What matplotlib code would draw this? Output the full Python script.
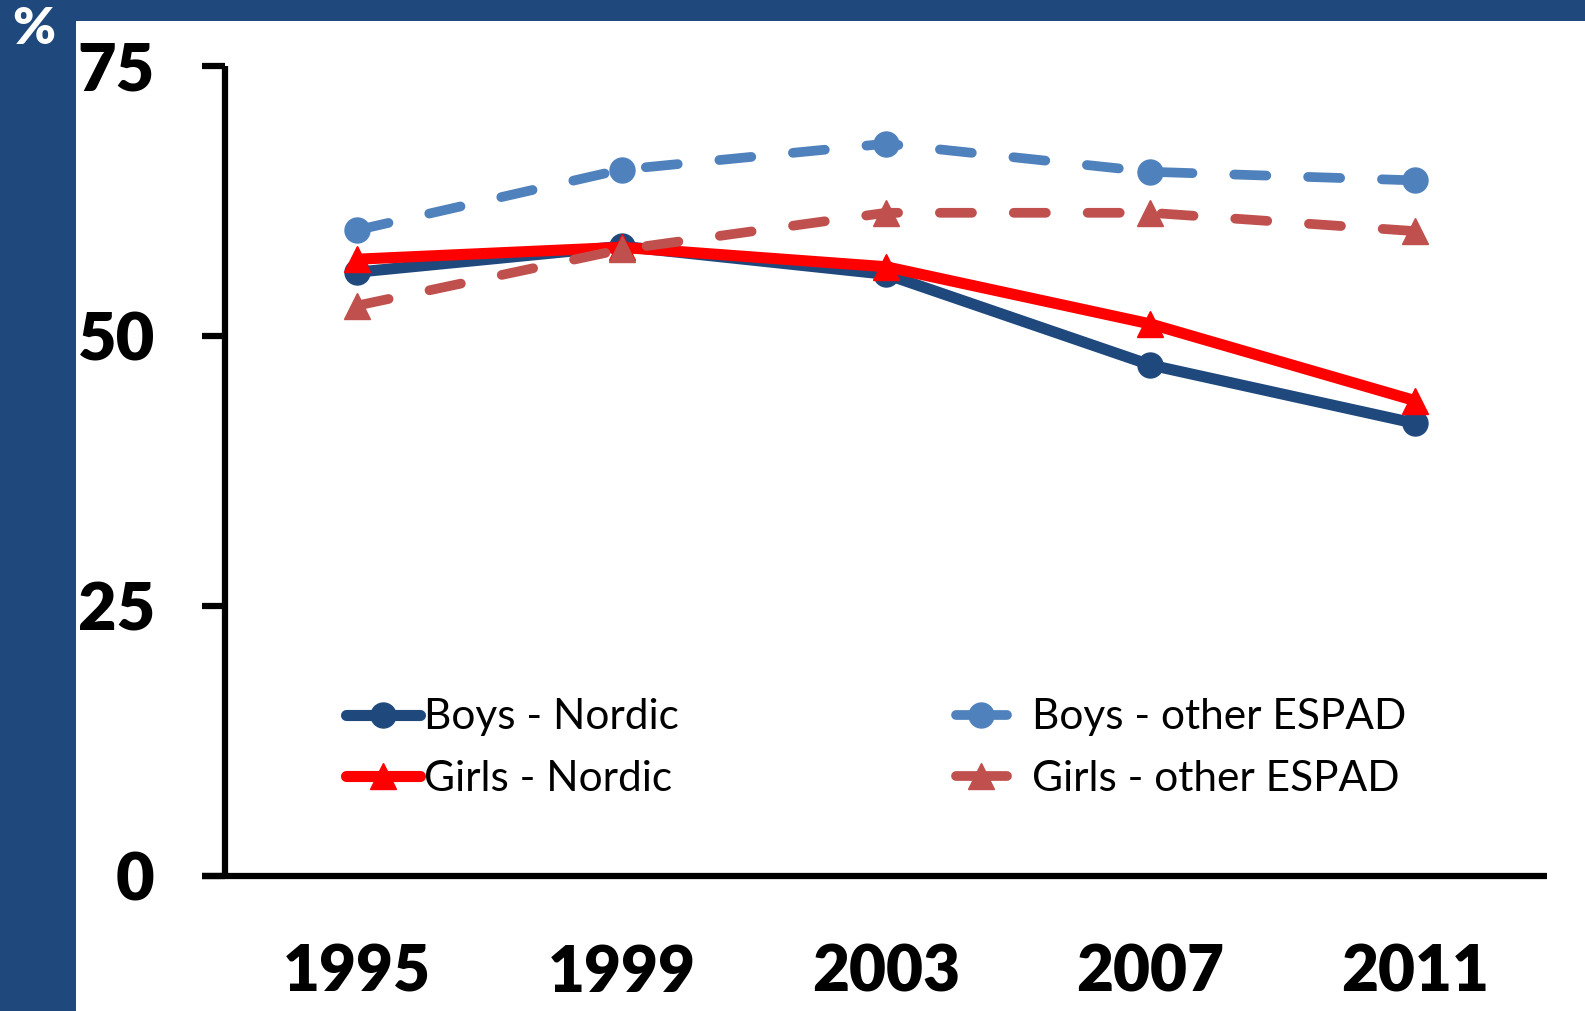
import numpy as np
import matplotlib.pyplot as plt
from matplotlib.lines import Line2D
from matplotlib.patches import Rectangle
from matplotlib.legend_handler import HandlerLine2D

# data
years = [1995, 1999, 2003, 2007, 2011]
boys_nordic = [55.9, 58.3, 55.7, 47.3, 41.9]
girls_nordic = [57.1, 58.2, 56.4, 51.1, 44.0]
boys_other = [59.8, 65.4, 67.8, 65.2, 64.4]
girls_other = [52.8, 58.0, 61.4, 61.4, 59.7]
yticks = [0, 25, 50, 75]

frame_blue = '#1F497D'
c_boys_n = '#1F497D'
c_girls_n = '#FF0000'
c_boys_o = '#4F81BD'
c_girls_o = '#C0504D'

plt.rcParams['font.family'] = ['Lato', 'DejaVu Sans']

W, H = 1585, 1011
fig = plt.figure(figsize=(W / 100, H / 100), dpi=100, facecolor=frame_blue)
# white panel inside the blue frame
fig.patches.append(Rectangle((76 / W, 0), 1, (H - 21) / H, transform=fig.transFigure,
                             facecolor='white', edgecolor='none', zorder=-5))
fig.text(34 / W, 1 - 29 / H, '%', color='white', fontsize=37, fontweight='heavy',
         ha='center', va='center')

ax = fig.add_axes([225 / W, 135.5 / H, (1547 - 225) / W, (875.5 - 66) / H])
ax.set_facecolor('none')

ms = 18
ax.plot(years, boys_nordic, color=c_boys_n, lw=8, marker='o', ms=ms,
        solid_joinstyle='round', solid_capstyle='round', zorder=3)
ax.plot(years, girls_nordic, color=c_girls_n, lw=8, marker='^', ms=ms + 1,
        solid_joinstyle='round', solid_capstyle='round', zorder=4)
ax.plot(years, boys_other, color=c_boys_o, lw=7, marker='o', ms=ms,
        dashes=(3.3, 4.3), dash_capstyle='round', zorder=3)
ax.plot(years, girls_other, color=c_girls_o, lw=7, marker='^', ms=ms + 1,
        dashes=(3.3, 4.3), dash_capstyle='round', zorder=5)

ax.set_xlim(1993, 2013)
ax.set_ylim(0, 75)
ax.set_xticks(years)
ax.set_xticklabels([str(y) for y in years])
ax.set_yticks(yticks)

for s in ['top', 'right']:
    ax.spines[s].set_visible(False)
for s in ['left', 'bottom']:
    ax.spines[s].set_linewidth(4.5)
    ax.spines[s].set_capstyle('butt')
# horizontal axis runs a bit past the vertical one
ax.plot([-23 / 1322, 0], [0, 0], transform=ax.transAxes, color='black', lw=4.5,
        solid_capstyle='butt', clip_on=False)

ax.tick_params(axis='y', length=16.5, width=4.5, pad=34, labelsize=48, direction='out')
ax.tick_params(axis='x', length=0, pad=49, labelsize=46)
for lab in ax.get_xticklabels() + ax.get_yticklabels():
    lab.set_fontweight('heavy')


class EndMarkerHandler(HandlerLine2D):
    def get_xdata(self, legend, xdescent, ydescent, width, height, fontsize):
        xdata, _ = super().get_xdata(legend, xdescent, ydescent, width, height, fontsize)
        return xdata, [xdata[-1] - 9]


h_nordic = [Line2D([], [], color=c_boys_n, lw=8, marker='o', ms=ms, solid_capstyle='round'),
            Line2D([], [], color=c_girls_n, lw=8, marker='^', ms=ms + 1, solid_capstyle='round')]
h_other = [Line2D([], [], color=c_boys_o, lw=7, marker='o', ms=ms, solid_capstyle='round'),
           Line2D([], [], color=c_girls_o, lw=7, marker='^', ms=ms + 1, solid_capstyle='round')]

leg1 = ax.legend(h_nordic, ['Boys - Nordic', 'Girls - Nordic'], loc='center left',
                 bbox_to_anchor=(346 / W, 1 - 748 / H), bbox_transform=fig.transFigure,
                 frameon=False, fontsize=30.5, handlelength=1.75, handletextpad=0.1,
                 borderpad=0, borderaxespad=0, labelspacing=0.55, numpoints=1)
ax.add_artist(leg1)
ax.legend(h_other, ['Boys - other ESPAD', 'Girls - other ESPAD'], loc='center left',
          bbox_to_anchor=(956 / W, 1 - 748 / H), bbox_transform=fig.transFigure,
          frameon=False, fontsize=30.5, handlelength=1.2, handletextpad=0.6,
          borderpad=0, borderaxespad=0, labelspacing=0.55, numpoints=1,
          handler_map={h: EndMarkerHandler() for h in h_other})

fig.savefig('out.png', dpi=100, facecolor=frame_blue)
